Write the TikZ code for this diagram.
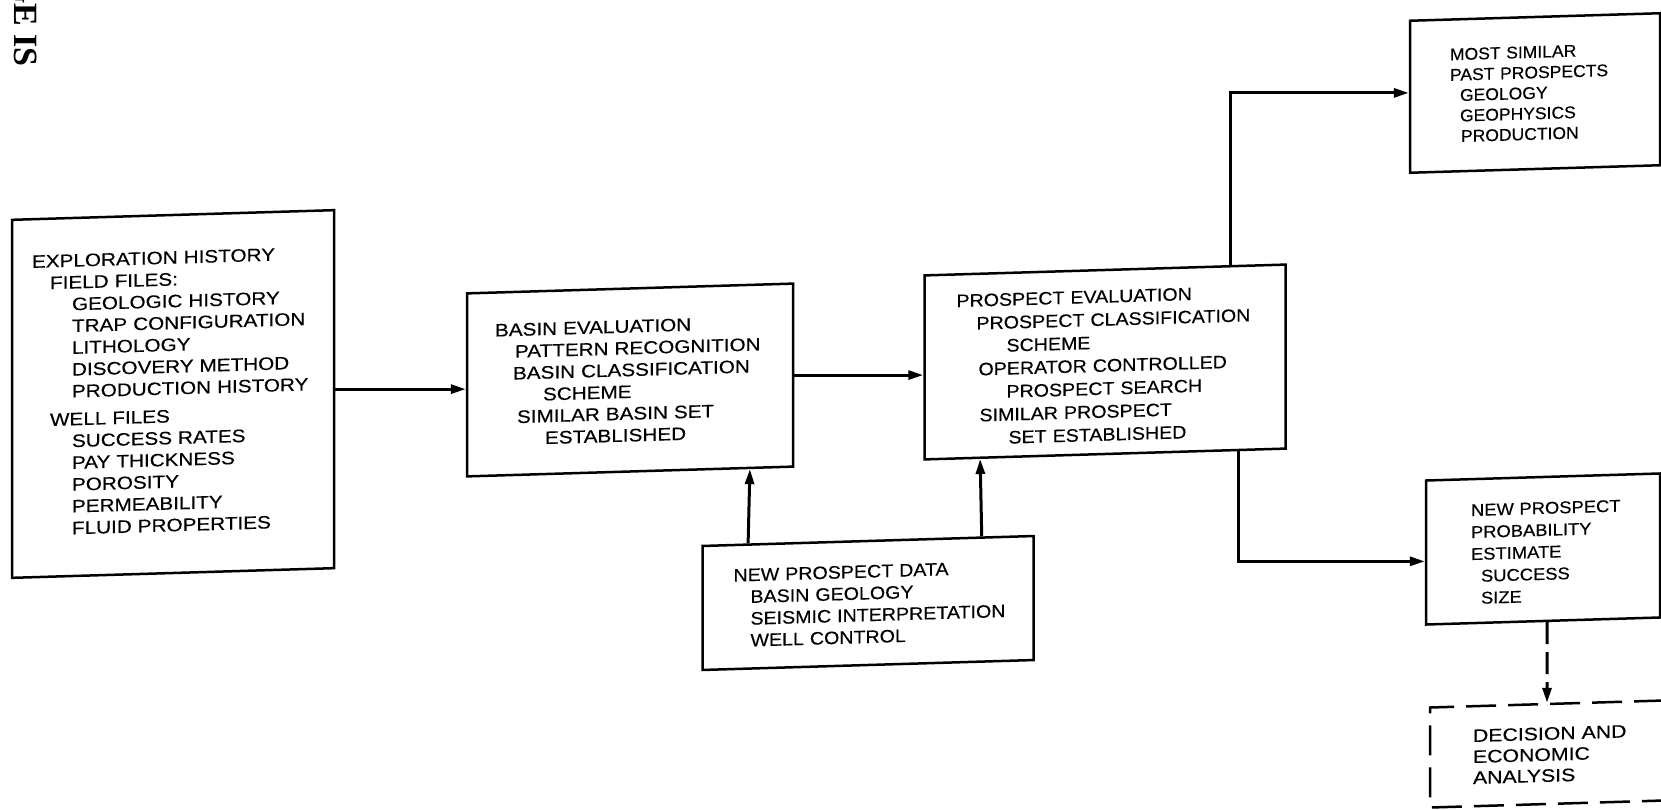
\documentclass[tikz,border=0pt]{standalone}
\usepackage{fontspec}
\setmainfont{Liberation Sans}[FakeStretch=1.12]
\newfontfamily\fontA{Liberation Sans}[FakeStretch=1.15, FakeBold=0.3]
\newfontfamily\fontC{Liberation Sans}[FakeStretch=1.09, FakeBold=0.3]
\newfontfamily\fontD{Liberation Sans}[FakeStretch=1.03, FakeBold=0.3]
\newfontfamily\fontE{Liberation Sans}[FakeStretch=1.08, FakeBold=0.3]
\newfontfamily\fontF{Liberation Sans}[FakeStretch=1.18, FakeBold=0.3]
\newfontfamily\stampfont{Liberation Serif}
\usetikzlibrary{arrows.meta,calc}
\newcommand{\boxline}[2]{\hspace*{#1pt}\mbox{#2}}
\begin{document}
\begin{tikzpicture}[x=1pt,y=-1pt,
  box/.style={draw, line width=2.5pt, yslant=0.03, inner sep=0pt, align=left},
  arr/.style={line width=3pt, -{Triangle[length=15pt,width=9pt]}},
  dashbox/.style={dash pattern=on 30pt off 12pt},
  dasharr/.style={dash pattern=on 22pt off 8pt},
]
\path[use as bounding box, fill=white] (0,0) rectangle (1661,810);

\node[rotate=-90, anchor=base east, inner sep=0pt,
  font={\stampfont\fontsize{34}{36}\selectfont\bfseries}] (stamp) at (14,67) {PAGE IS};

\node[box, minimum width=322pt, minimum height=358pt, text width=282pt,
  font=\fontA\fontsize{18}{21.8}\selectfont, text height=12.9pt, text depth=273.5pt] (b1) at (173,394)
{\boxline{0}{EXPLORATION HISTORY}\\
 \boxline{18}{FIELD FILES:}\\
 \boxline{40}{GEOLOGIC HISTORY}\\
 \boxline{40}{TRAP CONFIGURATION}\\
 \boxline{40}{LITHOLOGY}\\
 \boxline{40}{DISCOVERY METHOD}\\
 \boxline{40}{PRODUCTION HISTORY}\\[6pt]
 \boxline{18}{WELL FILES}\\
 \boxline{40}{SUCCESS RATES}\\
 \boxline{40}{PAY THICKNESS}\\
 \boxline{40}{POROSITY}\\
 \boxline{40}{PERMEABILITY}\\
 \boxline{40}{FLUID PROPERTIES}};

\node[box, minimum width=326pt, minimum height=183pt, text width=270pt,
  font=\fontA\fontsize{18}{21.8}\selectfont, text height=12.9pt, text depth=107.9pt] (b2) at (630,380)
{\boxline{0}{BASIN EVALUATION}\\
 \boxline{20}{PATTERN RECOGNITION}\\
 \boxline{18}{BASIN CLASSIFICATION}\\
 \boxline{48}{SCHEME}\\
 \boxline{22}{SIMILAR BASIN SET}\\
 \boxline{50}{ESTABLISHED}};

\node[box, minimum width=361pt, minimum height=184pt, text width=297pt,
  font=\fontC\fontsize{18}{23}\selectfont, text height=12.9pt, text depth=131.5pt] (b3) at (1105,362)
{\boxline{0}{PROSPECT EVALUATION}\\
 \boxline{20}{PROSPECT CLASSIFICATION}\\
 \boxline{50}{SCHEME}\\
 \boxline{22}{OPERATOR CONTROLLED}\\
 \boxline{50}{PROSPECT SEARCH}\\
 \boxline{23}{SIMILAR PROSPECT}\\
 \boxline{52}{SET ESTABLISHED}};

\node[box, minimum width=250pt, minimum height=152pt, text width=170pt,
  font=\fontD\fontsize{17}{20.5}\selectfont, text height=12.2pt, text depth=82.6pt] (b4) at (1535,93)
{\boxline{0}{MOST SIMILAR}\\
 \boxline{0}{PAST PROSPECTS}\\
 \boxline{10}{GEOLOGY}\\
 \boxline{10}{GEOPHYSICS}\\
 \boxline{11}{PRODUCTION}};

\node[box, minimum width=234pt, minimum height=144pt, text width=144pt,
  font=\fontE\fontsize{17}{22}\selectfont, text height=12.2pt, text depth=82.4pt] (b5) at (1543,549)
{\boxline{0}{NEW PROSPECT}\\
 \boxline{0}{PROBABILITY}\\
 \boxline{0}{ESTIMATE}\\
 \boxline{10}{SUCCESS}\\
 \boxline{10}{SIZE}};

\node[box, dashbox, minimum width=234pt, minimum height=100pt, text width=148pt,
  font=\fontF\fontsize{18}{21}\selectfont, text height=12.9pt, text depth=41.3pt] (b6) at (1547,754)
{\boxline{0}{DECISION AND}\\
 \boxline{0}{ECONOMIC}\\
 \boxline{0}{ANALYSIS}};

\node[box, minimum width=331pt, minimum height=124pt, text width=269pt,
  font=\fontC\fontsize{18}{21.8}\selectfont, text height=12.9pt, text depth=63.7pt] (b7) at (868,603)
{\boxline{0}{NEW PROSPECT DATA}\\
 \boxline{17}{BASIN GEOLOGY}\\
 \boxline{17}{SEISMIC INTERPRETATION}\\
 \boxline{17}{WELL CONTROL}};

\draw[arr] (b1.east) -- (b1.east -| b2.west);
\draw[arr] (b2.east) -- (b2.east -| b3.west);
\draw[arr] ($(b3.north west)!0.846!(b3.north east)$) |- ($(b4.north west)!0.475!(b4.south west)$);
\draw[arr] ($(b3.south west)!0.868!(b3.south east)$) |- ($(b5.north west)!0.56!(b5.south west)$);
\draw[arr, dasharr] ($(b5.south west)!0.517!(b5.south east)$) -- (b6.north);
\draw[arr] ($(b7.north west)!0.1405!(b7.north east)$) -- ($(b2.south west)!0.865!(b2.south east)$);
\draw[arr] ($(b7.north west)!0.841!(b7.north east)$) -- ($(b3.south west)!0.1565!(b3.south east)$);
\end{tikzpicture}
\end{document}
